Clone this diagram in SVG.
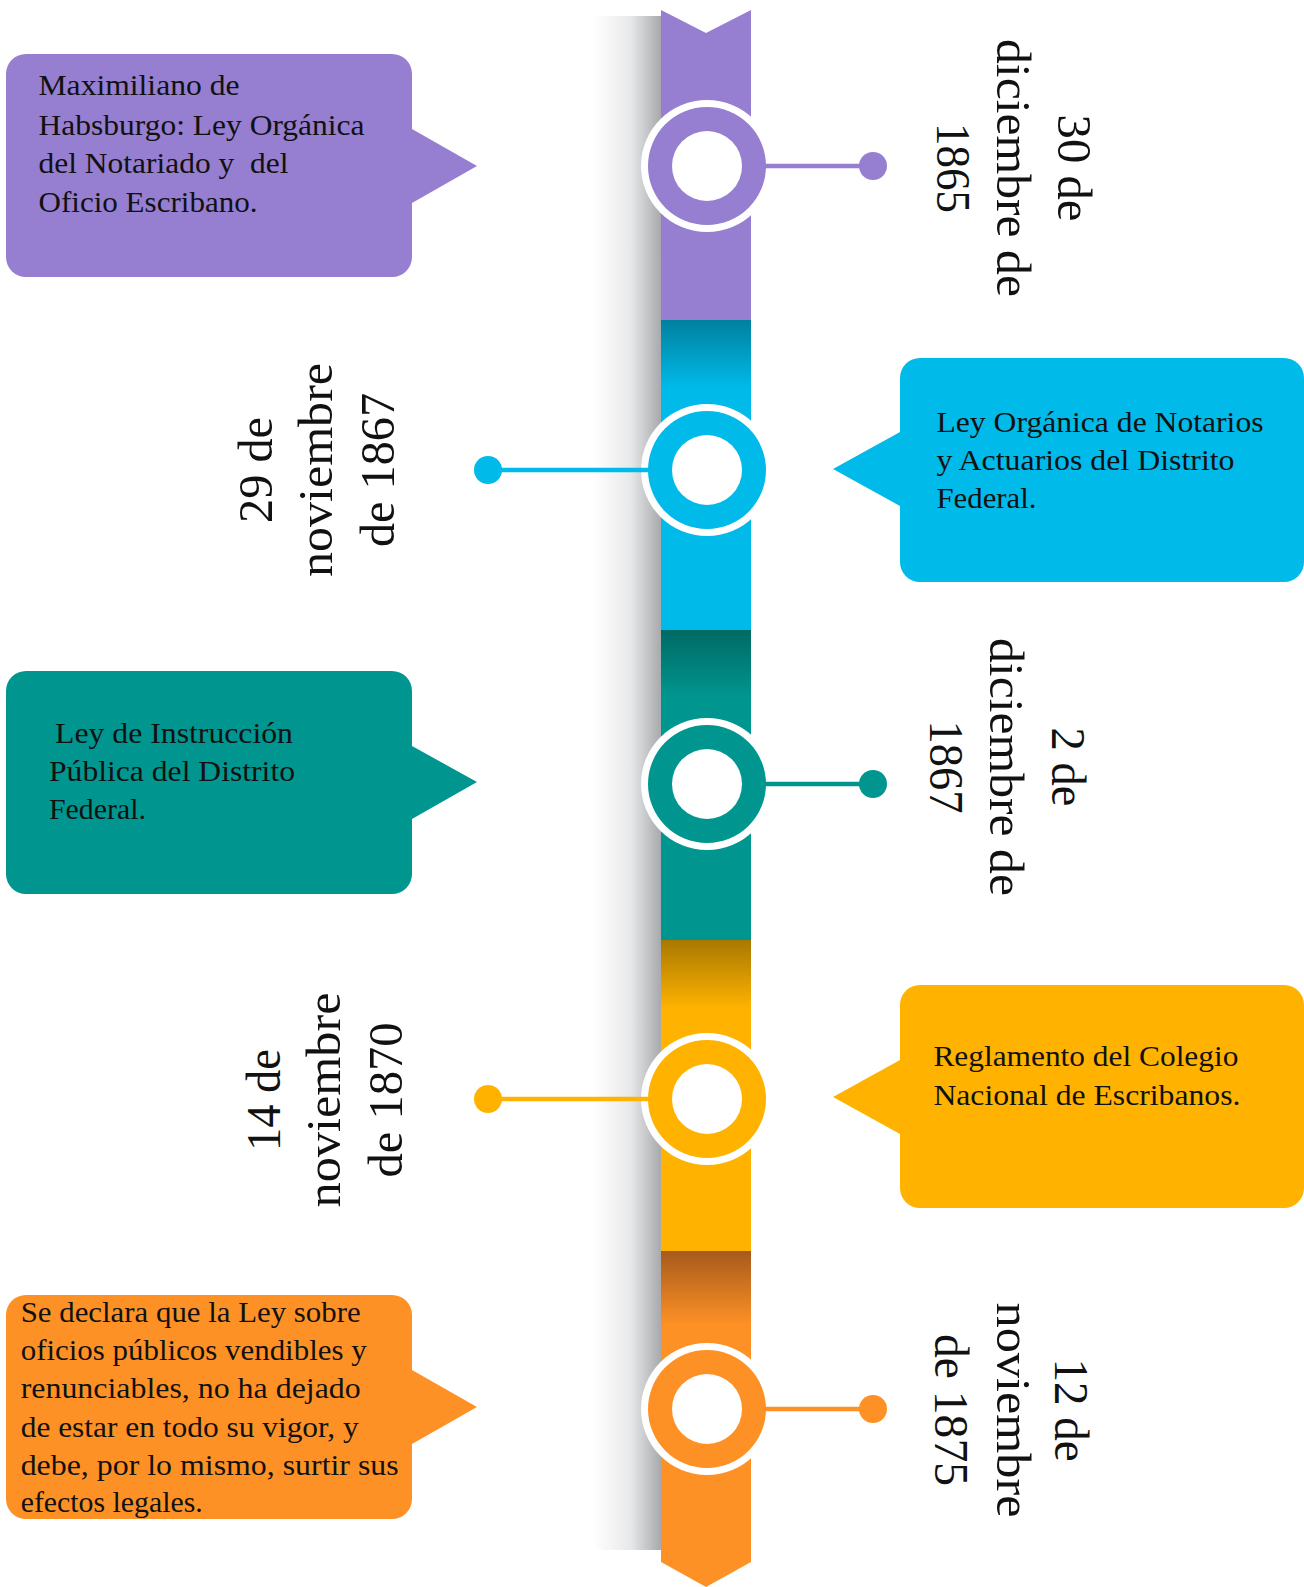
<svg xmlns="http://www.w3.org/2000/svg" width="1304" height="1587" viewBox="0 0 1304 1587">
<defs>
<style>
.box{font-family:"Liberation Serif","Times New Roman",serif;font-size:29px;fill:#111;}
.date{font-family:"Liberation Serif","Times New Roman",serif;font-size:48px;fill:#111;text-anchor:middle;}
.ring{fill:#fff;}
.hole{fill:#fff;}
</style>
<linearGradient id="shadow" x1="0" y1="0" x2="1" y2="0">
<stop offset="0" stop-color="#ffffff"/>
<stop offset="0.55" stop-color="#e8e9ea"/>
<stop offset="1" stop-color="#a7a9ac"/>
</linearGradient>
<linearGradient id="gBlue" x1="0" y1="0" x2="0" y2="1">
<stop offset="0" stop-color="#00809e"/>
<stop offset="0.22" stop-color="#00BAE9"/>
</linearGradient>
<linearGradient id="gTeal" x1="0" y1="0" x2="0" y2="1">
<stop offset="0" stop-color="#006a64"/>
<stop offset="0.22" stop-color="#009690"/>
</linearGradient>
<linearGradient id="gYellow" x1="0" y1="0" x2="0" y2="1">
<stop offset="0" stop-color="#a87800"/>
<stop offset="0.22" stop-color="#FFB300"/>
</linearGradient>
<linearGradient id="gOrange" x1="0" y1="0" x2="0" y2="1">
<stop offset="0" stop-color="#a65a1c"/>
<stop offset="0.22" stop-color="#FE9126"/>
</linearGradient>
</defs>
<rect width="1304" height="1587" fill="#ffffff"/>

<g id="ribbon">
<rect x="593" y="16" width="68" height="1534" fill="url(#shadow)"/>
<path d="M661 10 L706 33 L751 10 V320 H661 Z" fill="#967ED0"/>
<rect x="661" y="320" width="90" height="310" fill="url(#gBlue)"/>
<rect x="661" y="630" width="90" height="310" fill="url(#gTeal)"/>
<rect x="661" y="940" width="90" height="311" fill="url(#gYellow)"/>
<path d="M661 1251 H751 V1562 L706 1587 L661 1562 Z" fill="url(#gOrange)"/>
</g>

<g id="connectors">
<circle class="ring" cx="707" cy="166" r="66"/>
<circle class="ring" cx="707" cy="470" r="66"/>
<circle class="ring" cx="707" cy="784" r="66"/>
<circle class="ring" cx="707" cy="1099" r="66"/>
<circle class="ring" cx="707" cy="1409" r="66"/>
<line x1="707" y1="166" x2="873" y2="166" stroke="#967ED0" stroke-width="4.5"/>
<circle cx="873" cy="166" r="14" fill="#967ED0"/>
<line x1="488" y1="470" x2="707" y2="470" stroke="#00BAE9" stroke-width="4.5"/>
<circle cx="488" cy="470" r="14" fill="#00BAE9"/>
<line x1="707" y1="784" x2="873" y2="784" stroke="#009690" stroke-width="4.5"/>
<circle cx="873" cy="784" r="14" fill="#009690"/>
<line x1="488" y1="1099" x2="707" y2="1099" stroke="#FFB300" stroke-width="4.5"/>
<circle cx="488" cy="1099" r="14" fill="#FFB300"/>
<line x1="707" y1="1409" x2="873" y2="1409" stroke="#FE9126" stroke-width="4.5"/>
<circle cx="873" cy="1409" r="14" fill="#FE9126"/>
</g>

<g id="marker1">
<circle cx="707" cy="166" r="59" fill="#967ED0"/>
<circle class="hole" cx="707" cy="166" r="35"/>
</g>
<g id="marker2">
<circle cx="707" cy="470" r="59" fill="#00BAE9"/>
<circle class="hole" cx="707" cy="470" r="35"/>
</g>
<g id="marker3">
<circle cx="707" cy="784" r="59" fill="#009690"/>
<circle class="hole" cx="707" cy="784" r="35"/>
</g>
<g id="marker4">
<circle cx="707" cy="1099" r="59" fill="#FFB300"/>
<circle class="hole" cx="707" cy="1099" r="35"/>
</g>
<g id="marker5">
<circle cx="707" cy="1409" r="59" fill="#FE9126"/>
<circle class="hole" cx="707" cy="1409" r="35"/>
</g>

<g id="box1">
<path d="M26 54 H392 A20 20 0 0 1 412 74 V129 L477 166 L412 203 V257 A20 20 0 0 1 392 277 H26 A20 20 0 0 1 6 257 V74 A20 20 0 0 1 26 54 Z" fill="#967ED0"/>
<text class="box" x="38.5" y="95" textLength="201" lengthAdjust="spacingAndGlyphs">Maximiliano de</text>
<text class="box" x="38.5" y="134.5" textLength="326" lengthAdjust="spacingAndGlyphs">Habsburgo: Ley Orgánica</text>
<text class="box" x="38.5" y="173" textLength="250" lengthAdjust="spacingAndGlyphs" xml:space="preserve">del Notariado y  del</text>
<text class="box" x="38.5" y="212" textLength="219" lengthAdjust="spacingAndGlyphs">Oficio Escribano.</text>
</g>

<g id="box2">
<path d="M920 358 H1284 A20 20 0 0 1 1304 378 V562 A20 20 0 0 1 1284 582 H920 A20 20 0 0 1 900 562 V506 L833 469 L900 432 V378 A20 20 0 0 1 920 358 Z" fill="#00BAE9"/>
<text class="box" x="936.5" y="431.7" textLength="327" lengthAdjust="spacingAndGlyphs">Ley Orgánica de Notarios</text>
<text class="box" x="936.5" y="470" textLength="298" lengthAdjust="spacingAndGlyphs">y Actuarios del Distrito</text>
<text class="box" x="936.5" y="508.3" textLength="100" lengthAdjust="spacingAndGlyphs">Federal.</text>
</g>

<g id="box3">
<path d="M26 671 H392 A20 20 0 0 1 412 691 V746 L477 782 L412 819 V874 A20 20 0 0 1 392 894 H26 A20 20 0 0 1 6 874 V691 A20 20 0 0 1 26 671 Z" fill="#009690"/>
<text class="box" x="55" y="742.7" textLength="238" lengthAdjust="spacingAndGlyphs">Ley de Instrucción</text>
<text class="box" x="49" y="780.7" textLength="246" lengthAdjust="spacingAndGlyphs">Pública del Distrito</text>
<text class="box" x="49" y="819.3" textLength="97" lengthAdjust="spacingAndGlyphs">Federal.</text>
</g>

<g id="box4">
<path d="M920 985 H1284 A20 20 0 0 1 1304 1005 V1188 A20 20 0 0 1 1284 1208 H920 A20 20 0 0 1 900 1188 V1134 L833 1097 L900 1060 V1005 A20 20 0 0 1 920 985 Z" fill="#FFB300"/>
<text class="box" x="933.4" y="1066" textLength="305" lengthAdjust="spacingAndGlyphs">Reglamento del Colegio</text>
<text class="box" x="933.4" y="1104.5" textLength="307" lengthAdjust="spacingAndGlyphs">Nacional de Escribanos.</text>
</g>

<g id="box5">
<path d="M26 1295 H392 A20 20 0 0 1 412 1315 V1370 L477 1407 L412 1444 V1499 A20 20 0 0 1 392 1519 H26 A20 20 0 0 1 6 1499 V1315 A20 20 0 0 1 26 1295 Z" fill="#FE9126"/>
<text class="box" x="20.7" y="1321.7" textLength="340" lengthAdjust="spacingAndGlyphs">Se declara que la Ley sobre</text>
<text class="box" x="20.7" y="1360" textLength="346" lengthAdjust="spacingAndGlyphs">oficios públicos vendibles y</text>
<text class="box" x="20.7" y="1398.3" textLength="340" lengthAdjust="spacingAndGlyphs">renunciables, no ha dejado</text>
<text class="box" x="20.7" y="1436.7" textLength="338" lengthAdjust="spacingAndGlyphs">de estar en todo su vigor, y</text>
<text class="box" x="20.7" y="1475" textLength="378" lengthAdjust="spacingAndGlyphs">debe, por lo mismo, surtir sus</text>
<text class="box" x="20.7" y="1511.7" textLength="182" lengthAdjust="spacingAndGlyphs">efectos legales.</text>
</g>

<g id="date1" transform="translate(1058,168) rotate(90)">
<text class="date" x="0" y="0" textLength="107" lengthAdjust="spacingAndGlyphs">30 de</text>
<text class="date" x="0" y="61" textLength="258" lengthAdjust="spacingAndGlyphs">diciembre de</text>
<text class="date" x="0" y="121" textLength="90" lengthAdjust="spacingAndGlyphs">1865</text>
</g>

<g id="date2" transform="translate(272,470) rotate(-90)">
<text class="date" x="0" y="0" textLength="106" lengthAdjust="spacingAndGlyphs">29 de</text>
<text class="date" x="0" y="60" textLength="214" lengthAdjust="spacingAndGlyphs">noviembre</text>
<text class="date" x="0" y="121.5" textLength="154" lengthAdjust="spacingAndGlyphs">de 1867</text>
</g>

<g id="date3" transform="translate(1052,767) rotate(90)">
<text class="date" x="0" y="0" textLength="79" lengthAdjust="spacingAndGlyphs">2 de</text>
<text class="date" x="0" y="62" textLength="258" lengthAdjust="spacingAndGlyphs">diciembre de</text>
<text class="date" x="0" y="122" textLength="93" lengthAdjust="spacingAndGlyphs">1867</text>
</g>

<g id="date4" transform="translate(280,1100) rotate(-90)">
<text class="date" x="0" y="0" textLength="102" lengthAdjust="spacingAndGlyphs">14 de</text>
<text class="date" x="0" y="60" textLength="215" lengthAdjust="spacingAndGlyphs">noviembre</text>
<text class="date" x="0" y="121.7" textLength="155" lengthAdjust="spacingAndGlyphs">de 1870</text>
</g>

<g id="date5" transform="translate(1055,1410) rotate(90)">
<text class="date" x="0" y="0" textLength="103" lengthAdjust="spacingAndGlyphs">12 de</text>
<text class="date" x="0" y="58.3" textLength="215" lengthAdjust="spacingAndGlyphs">noviembre</text>
<text class="date" x="0" y="120" textLength="152" lengthAdjust="spacingAndGlyphs">de 1875</text>
</g>
</svg>
